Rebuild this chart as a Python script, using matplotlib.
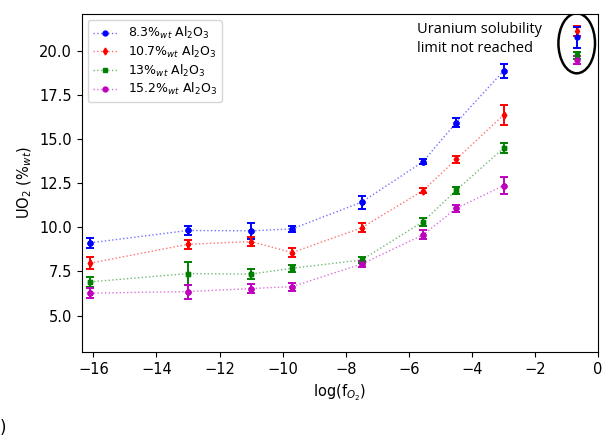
"""UO2 solubility versus oxygen fugacity for four alumina contents."""
import matplotlib

matplotlib.use("Agg")
import matplotlib.pyplot as plt
from matplotlib.colors import to_rgb
from matplotlib.patches import Ellipse

# log(fO2) positions of the measurements
log_fo2 = [-16.1, -13.0, -11.0, -9.7, -7.5, -5.55, -4.5, -3.0]

labels = [
    r"8.3%$_{wt}$ Al$_2$O$_3$",
    r"10.7%$_{wt}$ Al$_2$O$_3$",
    r"13%$_{wt}$ Al$_2$O$_3$",
    r"15.2%$_{wt}$ Al$_2$O$_3$",
]

uo2_83 = [9.12, 9.82, 9.80, 9.91, 11.42, 13.72, 15.93, 18.85]
err_83 = [0.30, 0.25, 0.45, 0.17, 0.36, 0.15, 0.24, 0.37]

uo2_107 = [7.97, 9.04, 9.19, 8.57, 9.97, 12.08, 13.85, 16.36]
err_107 = [0.35, 0.25, 0.27, 0.25, 0.26, 0.15, 0.20, 0.57]

uo2_13 = [6.91, 7.38, 7.35, 7.68, 8.15, 10.32, 12.10, 14.48]
err_13 = [0.28, 0.66, 0.30, 0.20, 0.19, 0.22, 0.20, 0.30]

uo2_152 = [6.27, 6.36, 6.53, 6.64, 7.92, 9.57, 11.07, 12.36]
err_152 = [0.27, 0.40, 0.27, 0.22, 0.15, 0.25, 0.20, 0.47]

# samples where the solubility limit was not reached
unsat_x = -0.68
unsat_y = [20.77, 21.13, 19.74, 19.47]
unsat_err = [0.60, 0.28, 0.20, 0.25]

series = [
    (uo2_83, err_83, "b", "o", 3.5),
    (uo2_107, err_107, "r", "d", 3.5),
    (uo2_13, err_13, "g", "s", 3.5),
    (uo2_152, err_152, "m", "o", 3.5),
]


def tint(color, amount=0.45):
    """Blend a colour toward white, for the faint connecting lines."""
    r, g, b = to_rgb(color)
    return (r + (1 - r) * amount, g + (1 - g) * amount, b + (1 - b) * amount)


fig = plt.figure(figsize=(6.03, 4.37), dpi=100)
ax = fig.add_axes([0.1355, 0.195, 0.8565, 0.773])

# unsaturated points first, drawn in the order red, blue, green, magenta
for idx in [1, 0, 2, 3]:
    _, _, color, marker, ms = series[idx]
    ax.errorbar(
        [unsat_x], [unsat_y[idx]], yerr=[unsat_err[idx]],
        color=color, marker=marker, ms=ms, linestyle="none",
        capsize=3, elinewidth=1.4, capthick=1.4,
    )

for (vals, errs, color, marker, ms), label in zip(series, labels):
    ax.plot(
        log_fo2, vals, color=tint(color), linestyle=":", linewidth=1.0,
        marker=marker, ms=ms, mfc=color, mec=color, label=label,
    )
    ax.errorbar(
        log_fo2, vals, yerr=errs, color=color, marker=marker, ms=ms,
        linestyle="none", capsize=3, elinewidth=1.4, capthick=1.4,
    )

ax.add_patch(Ellipse((unsat_x, 20.42), 1.16, 3.4, fill=False, edgecolor="black", linewidth=1.8))
ax.text(-5.75, 21.6, "Uranium solubility\nlimit not reached", family="Open Sans",
        fontsize=10.5, va="top", ha="left", linespacing=1.3)

ax.set_xlim(-16.37, 0)
ax.set_ylim(2.95, 22.08)
ax.set_xticks([-16, -14, -12, -10, -8, -6, -4, -2, 0])
ax.set_yticks([5.0, 7.5, 10.0, 12.5, 15.0, 17.5, 20.0])
ax.tick_params(labelsize=10.5)
ax.set_xlabel(r"log(f$_{O_2}$)", fontsize=10.5)
ax.set_ylabel(r"UO$_2$ (%$_{wt}$)", fontsize=10.5)

ax.legend(
    loc="upper left", fontsize=9, handlelength=2.0,
    borderpad=0.4, labelspacing=0.2,
)

fig.text(0.0, 0.01, ")", fontsize=12)

fig.savefig("out.png", dpi=100)
